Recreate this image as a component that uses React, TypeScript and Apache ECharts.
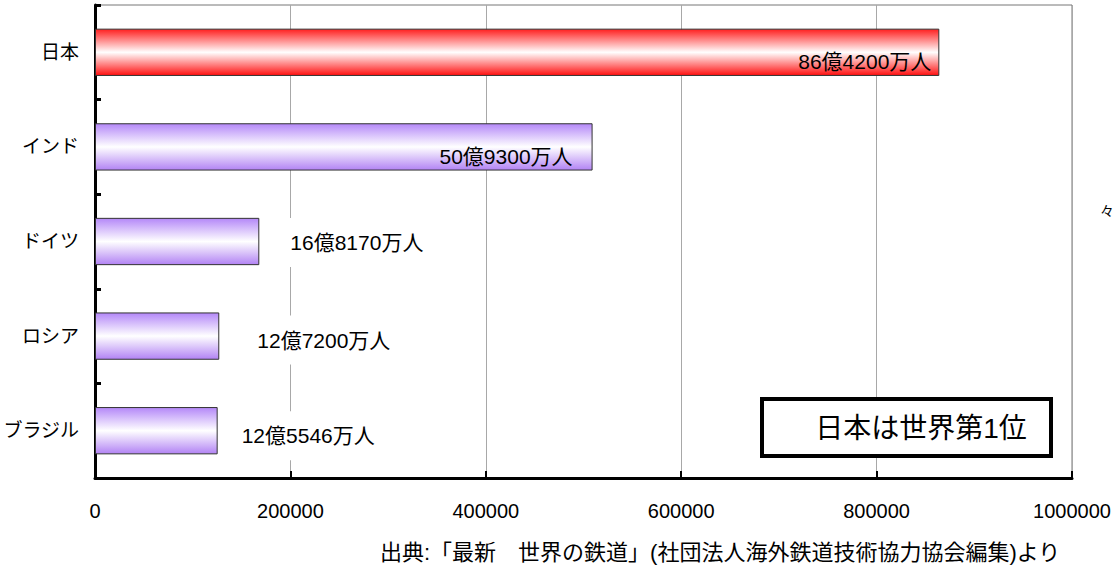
import React, { useEffect, useRef } from "react";
import * as echarts from "echarts";

const categories = ["日本", "インド", "ドイツ", "ロシア", "ブラジル"];
const values = [864200, 509300, 168170, 127200, 125546];
const valueLabels = ["86億4200万人", "50億9300万人", "16億8170万人", "12億7200万人", "12億5546万人"];
const xTicks = [0, 200000, 400000, 600000, 800000, 1000000];
const sourceText = "出典:「最新　世界の鉄道」(社団法人海外鉄道技術協力協会編集)より";
const badgeText = "日本は世界第1位";
const edgeText = "々";

const FONT = "'Liberation Sans', 'Noto Sans CJK JP', sans-serif";

const redGrad = new echarts.graphic.LinearGradient(0, 0, 0, 1, [
  { offset: 0, color: "#ff1f1f" },
  { offset: 0.5, color: "#ffffff" },
  { offset: 1, color: "#ff1010" },
]);
const purpleGrad = () =>
  new echarts.graphic.LinearGradient(0, 0, 0, 1, [
    { offset: 0, color: "#b488f8" },
    { offset: 0.5, color: "#ffffff" },
    { offset: 1, color: "#b283f4" },
  ]);

const labelStyles: any[] = [
  { position: "insideRight", distance: 8, offset: [0, 9] },
  { position: "insideRight", distance: 20, offset: [0, 10] },
  { position: "right", distance: 26, offset: [0, 1], backgroundColor: "#fff", padding: [14, 5] },
  { position: "right", distance: 33, offset: [0, 4], backgroundColor: "#fff", padding: [14, 5] },
  { position: "right", distance: 19, offset: [0, 5], backgroundColor: "#fff", padding: [14, 5] },
];

export default function App() {
  const ref = useRef<HTMLDivElement>(null);
  useEffect(() => {
    if (!ref.current) return;
    const chart = echarts.init(ref.current, null, { renderer: "svg" });
    const data = values.map((v, i) => ({
      value: v,
      itemStyle: { color: i === 0 ? redGrad : purpleGrad(), borderColor: "#333", borderWidth: 1 },
      label: {
        show: true,
        formatter: valueLabels[i],
        color: "#000",
        fontSize: 21,
        fontFamily: FONT,
        ...labelStyles[i],
      },
    }));
    chart.setOption({
      animation: false,
      textStyle: { fontFamily: FONT },
      grid: {
        left: 95,
        right: 43,
        top: 5,
        bottom: 89,
        outerBoundsMode: "none",
        containLabel: false,
        show: true,
        borderColor: "#777",
        borderWidth: 1,
        backgroundColor: "transparent",
      },
      xAxis: {
        type: "value",
        min: xTicks[0],
        max: xTicks[xTicks.length - 1],
        interval: xTicks[1] - xTicks[0],
        axisLine: { show: true, lineStyle: { color: "#000", width: 3 } },
        axisTick: { show: true, inside: true, length: 7, lineStyle: { color: "#000", width: 2 } },
        splitLine: { show: true, lineStyle: { color: "#a8a8a8", width: 1 } },
        axisLabel: {
          color: "#000",
          fontSize: 20,
          fontFamily: FONT,
          margin: 23,
          formatter: (v: number) => String(v),
        },
      },
      yAxis: {
        type: "category",
        data: categories,
        inverse: true,
        axisLine: { show: true, lineStyle: { color: "#000", width: 3 } },
        axisTick: { show: true, inside: true, length: 6, lineStyle: { color: "#000", width: 3 } },
        axisLabel: { color: "#000", fontSize: 19, fontFamily: FONT, margin: 16 },
        splitLine: { show: false },
      },
      series: [
        {
          type: "bar",
          data,
          barCategoryGap: "50%",
        },
      ],
      graphic: [
        {
          type: "rect",
          shape: { x: 762, y: 399, width: 289, height: 57 },
          style: { fill: "#fff", stroke: "#000", lineWidth: 4 },
          z: 100,
        },
        {
          type: "text",
          x: 921,
          y: 428,
          style: {
            text: badgeText,
            fontSize: 28,
            fontFamily: FONT,
            fill: "#000",
            align: "center",
            verticalAlign: "middle",
          },
          z: 101,
        },
        {
          type: "text",
          x: 380,
          y: 552,
          style: {
            text: sourceText,
            fontSize: 22,
            fontFamily: FONT,
            fill: "#000",
            align: "left",
            verticalAlign: "middle",
          },
        },
        {
          type: "text",
          x: 1114,
          y: 211,
          style: {
            text: edgeText,
            fontSize: 14,
            fontFamily: FONT,
            fill: "#000",
            align: "right",
            verticalAlign: "middle",
          },
        },
      ],
    });
    return () => chart.dispose();
  }, []);
  return (
    <div
      ref={ref}
      style={{ position: "fixed", left: 0, top: 0, width: 1115, height: 567, background: "#fff" }}
    />
  );
}
